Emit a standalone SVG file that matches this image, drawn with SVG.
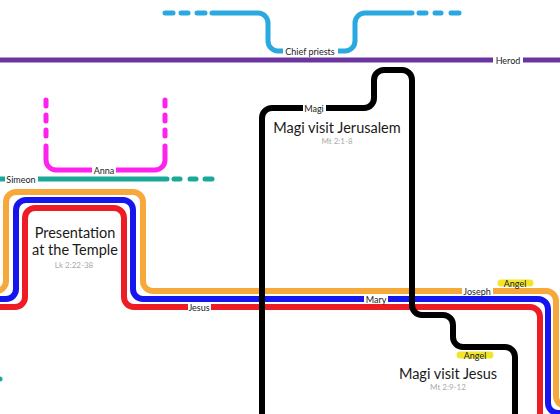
<svg xmlns="http://www.w3.org/2000/svg" width="560" height="414" viewBox="0 0 560 414">
<style>
.ln{fill:none;stroke-linecap:round;stroke-linejoin:round}
.lbl{font-family:Lato,"Liberation Sans",sans-serif;font-size:9px;fill:#222;text-anchor:middle;dominant-baseline:central}
.bg{fill:#fff}
.title{font-family:Lato,"Liberation Sans",sans-serif;font-size:14.5px;fill:#1a1a1a;text-anchor:middle}
.ref{font-family:Lato,"Liberation Sans",sans-serif;font-size:8px;fill:#aaa;text-anchor:middle}
.hl{stroke:#f2e52a;stroke-width:7;stroke-linecap:round}
</style>
<rect width="560" height="414" fill="#fff"/>
<g id="connectors">
  <line x1="0" y1="60" x2="560" y2="60" stroke="#6a35a0" stroke-width="5"/>
  <g stroke="#2aa8e0" stroke-width="5" class="ln">
    <path d="M212 13 L258 13 A10 10 0 0 1 268 23 L268 41 A10 10 0 0 0 278 51 L345 51 A10 10 0 0 0 355 41 L355 23 A10 10 0 0 1 365 13 L412 13"/>
    <line x1="165" y1="13" x2="173" y2="13"/><line x1="181" y1="13" x2="188" y2="13"/><line x1="197" y1="13" x2="205" y2="13"/>
    <line x1="419" y1="13" x2="426" y2="13"/><line x1="435" y1="13" x2="441" y2="13"/><line x1="451" y1="13" x2="459" y2="13"/>
  </g>
  <g stroke="#ff22ee" stroke-width="5" class="ln">
    <path d="M46 146 L46 160 A10 10 0 0 0 56 170 L155 170 A10 10 0 0 0 165 160 L165 146"/>
    <line x1="46" y1="100" x2="46" y2="106"/><line x1="46" y1="115" x2="46" y2="121"/><line x1="46" y1="130" x2="46" y2="136"/>
    <line x1="165" y1="100" x2="165" y2="106"/><line x1="165" y1="115" x2="165" y2="121"/><line x1="165" y1="130" x2="165" y2="136"/>
  </g>
  <g stroke="#1aa898" stroke-width="5" class="ln">
    <line x1="-5" y1="179" x2="167" y2="179"/>
    <line x1="174" y1="179" x2="180" y2="179"/><line x1="190" y1="179" x2="196" y2="179"/><line x1="205" y1="179" x2="212" y2="179"/>
    <line x1="-10" y1="379" x2="0" y2="379"/>
  </g>
  <path class="ln" stroke="#f7a83a" stroke-width="6" d="M-10 291 L-4 291 A10 10 0 0 0 6 281 L6 202 A10 10 0 0 1 16 192 L133 192 A10 10 0 0 1 143 202 L143 281 A10 10 0 0 0 153 291 L546 291 A10 10 0 0 1 556 301 L556 396 A10 10 0 0 0 566 406 L575 406"/>
  <path class="ln" stroke="#1515ee" stroke-width="6" d="M-10 299 L6 299 A10 10 0 0 0 16 289 L16 210 A10 10 0 0 1 26 200 L123 200 A10 10 0 0 1 133 210 L133 289 A10 10 0 0 0 143 299 L538 299 A10 10 0 0 1 548 309 L548 403 A10 10 0 0 0 558 413 L575 413"/>
  <path class="ln" stroke="#ee1c25" stroke-width="6" d="M-10 307 L15 307 A10 10 0 0 0 25 297 L25 218 A10 10 0 0 1 35 208 L114 208 A10 10 0 0 1 124 218 L124 297 A10 10 0 0 0 134 307 L530 307 A10 10 0 0 1 540 317 L540 420"/>
  <path class="ln" stroke="#000" stroke-width="6" d="M262 420 L262 118 A10 10 0 0 1 272 108 L364 108 A10 10 0 0 0 374 98 L374 80 A10 10 0 0 1 384 70 L402 70 A10 10 0 0 1 412 80 L412 305 A10 10 0 0 0 422 315 L443 315 A10 10 0 0 1 453 325 L453 337 A10 10 0 0 0 463 347 L505 347 A10 10 0 0 1 515 357 L515 420"/>
</g>
<g id="herod"><rect class="bg" x="493" y="55" width="30" height="10"/><text class="lbl" x="508" y="60">Herod</text></g>
<g id="chief-priests"><rect class="bg" x="283" y="46" width="55" height="10"/><text class="lbl" x="310" y="51">Chief priests</text></g>
<g id="anna"><rect class="bg" x="92" y="165" width="24" height="10"/><text class="lbl" x="104" y="170">Anna</text></g>
<g id="simeon"><rect class="bg" x="5" y="174" width="33" height="10"/><text class="lbl" x="21" y="179">Simeon</text></g>
<g id="magi"><rect class="bg" x="303" y="103" width="23" height="10"/><text class="lbl" x="314" y="108">Magi</text></g>
<g id="jesus"><rect class="bg" x="188" y="302" width="23" height="10"/><text class="lbl" x="199" y="307">Jesus</text></g>
<g id="mary"><rect class="bg" x="364" y="294" width="24" height="10"/><text class="lbl" x="376" y="299">Mary</text></g>
<g id="joseph"><rect class="bg" x="462" y="286" width="31" height="10"/><text class="lbl" x="477" y="291">Joseph</text></g>
<g id="angel1"><line class="hl" x1="501" y1="283" x2="530" y2="283"/><text class="lbl" x="515" y="283">Angel</text></g>
<g id="angel2"><line class="hl" x1="460" y1="355" x2="490" y2="355"/><text class="lbl" x="475" y="355">Angel</text></g>
<g id="presentation">
  <text class="title" x="75" y="238">Presentation</text>
  <text class="title" x="75" y="255">at the Temple</text>
  <text class="ref" x="74" y="268">Lk 2:22-38</text>
</g>
<g id="magi-jerusalem">
  <text class="title" x="337" y="133">Magi visit Jerusalem</text>
  <text class="ref" x="337" y="144">Mt 2:1-8</text>
</g>
<g id="magi-jesus">
  <text class="title" x="448" y="379">Magi visit Jesus</text>
  <text class="ref" x="448" y="390">Mt 2:9-12</text>
</g>
</svg>
